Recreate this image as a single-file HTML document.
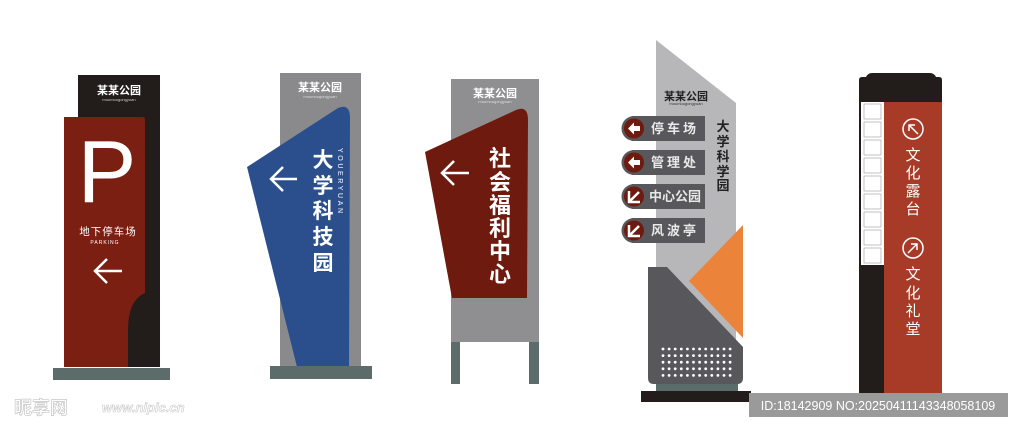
<!DOCTYPE html>
<html><head><meta charset="utf-8"><style>
html,body{margin:0;padding:0;background:#fff;}
svg{display:block;}
text{font-family:"Liberation Sans","Noto Sans CJK SC",sans-serif;}
</style></head><body>
<svg width="1024" height="433" viewBox="0 0 1024 433" xmlns="http://www.w3.org/2000/svg">
<!-- Sign 1 -->
<rect x="78" y="75" width="82" height="292" fill="#221d1a"/>
<text x="119" y="94" font-size="11" font-weight="bold" fill="#fff" text-anchor="middle">某某公园</text>
<text x="119" y="101" font-size="4" fill="#ccc" text-anchor="middle">moumougongyuan</text>
<path d="M64 117 L143 117 Q145 117 145 120 L145 293 Q128 300 128 330 L128 367 L64 367 Z" fill="#7a1f12"/>
<text x="107" y="202" font-size="88" fill="#fff" text-anchor="middle">P</text>
<text x="108" y="235" font-size="10.5" fill="#fff" text-anchor="middle" letter-spacing="1">地下停车场</text>
<text x="105" y="244" font-size="5" fill="#fff" text-anchor="middle" letter-spacing="1">PARKING</text>
<path d="M122 271 L96 271 M107 259 L95 271 L107 283" stroke="#fff" stroke-width="2.5" fill="none"/>
<rect x="53" y="368" width="117" height="12" fill="#5b6c6b"/>
<!-- Sign 2 -->
<rect x="280" y="73" width="81" height="294" fill="#8a8a8c"/>
<text x="320" y="91" font-size="11" font-weight="bold" fill="#fff" text-anchor="middle">某某公园</text>
<text x="320" y="98" font-size="4" fill="#ddd" text-anchor="middle">moumougongyuan</text>
<path d="M247 167 L338 108 Q350 103 350 118 L349 367 L297 367 Z" fill="#2b4f8c"/>
<path d="M297 179 L272 179 M283 167 L271 179 L283 191" stroke="#fff" stroke-width="2.5" fill="none"/>
<g font-size="21" font-weight="bold" fill="#fff" text-anchor="middle">
<text x="323" y="167">大</text><text x="323" y="193">学</text><text x="323" y="218">科</text><text x="323" y="244">技</text><text x="323" y="270">园</text></g>
<text transform="translate(338,148) rotate(90)" font-size="7" fill="#fff" letter-spacing="2.6">YOUERYUAN</text>
<rect x="270" y="366" width="102" height="13" fill="#5b6c6b"/>
<!-- Sign 3 -->
<rect x="451" y="79" width="88" height="263" fill="#8f8f91"/>
<rect x="451" y="342" width="9" height="42" fill="#5b6c6b"/>
<rect x="529" y="342" width="10" height="42" fill="#5b6c6b"/>
<text x="495" y="97" font-size="11" font-weight="bold" fill="#fff" text-anchor="middle">某某公园</text>
<text x="495" y="103" font-size="4" fill="#ddd" text-anchor="middle">moumougongyuan</text>
<path d="M425 152 L516 110 Q528 105 528 120 L527 298 L452 298 Z" fill="#6e1a0e"/>
<path d="M469 173 L443 173 M454 161 L442 173 L454 185" stroke="#fff" stroke-width="2.5" fill="none"/>
<g font-size="22" font-weight="bold" fill="#fff" text-anchor="middle">
<text x="500" y="166">社</text><text x="500" y="190">会</text><text x="500" y="213">福</text><text x="500" y="236">利</text><text x="500" y="259">中</text><text x="500" y="282">心</text></g>
<!-- Sign 4 -->
<path d="M656 40 L736 103 L736 347 L656 347 Z" fill="#b7b7b9"/>
<path d="M643 267 L667 267 L743 347 L743 378 Q743 384 737 384 L654 384 Q648 384 648 378 L648 267 Z" fill="#58575b"/>
<path d="M743 225 L689 281 L743 338 Z" fill="#ec833a"/>
<rect x="656" y="384" width="82" height="7" fill="#5b6c6b"/>
<rect x="641" y="391" width="110" height="11" fill="#221d1a"/>
<g fill="#fff">
<circle cx="663" cy="349" r="1.3"/>
</g>
<g id="dots" fill="#fff"></g>
<text x="686" y="100" font-size="11" font-weight="bold" fill="#222" text-anchor="middle">某某公园</text>
<text x="686" y="105" font-size="4" fill="#333" text-anchor="middle">moumougongyuan</text>
<g font-size="13" font-weight="bold" fill="#222" text-anchor="middle">
<text x="723" y="131">大</text><text x="723" y="146">学</text><text x="723" y="161">科</text><text x="723" y="176">学</text><text x="723" y="190">园</text></g>
<g>
<rect x="632" y="116" width="73" height="25" fill="#58575b"/><circle cx="634" cy="128.5" r="12.5" fill="#58575b"/><circle cx="634" cy="128.5" r="10" fill="#6e1a0e"/>
<rect x="632" y="150" width="73" height="25" fill="#58575b"/><circle cx="634" cy="162.5" r="12.5" fill="#58575b"/><circle cx="634" cy="162.5" r="10" fill="#6e1a0e"/>
<rect x="632" y="184" width="73" height="25" fill="#58575b"/><circle cx="634" cy="196.5" r="12.5" fill="#58575b"/><circle cx="634" cy="196.5" r="10" fill="#6e1a0e"/>
<rect x="632" y="218" width="73" height="25" fill="#58575b"/><circle cx="634" cy="230.5" r="12.5" fill="#58575b"/><circle cx="634" cy="230.5" r="10" fill="#6e1a0e"/>
<path d="M628 128.5 L634 122.5 L634 126 L640 126 L640 131 L634 131 L634 134.5 Z" fill="#fff"/>
<path d="M628 162.5 L634 156.5 L634 160 L640 160 L640 165 L634 165 L634 168.5 Z" fill="#fff"/>
<path d="M629 191 L629 202 L640 202 M629 202 L639 192" stroke="#fff" stroke-width="2.5" fill="none"/>
<path d="M629 225 L629 236 L640 236 M629 236 L639 226" stroke="#fff" stroke-width="2.5" fill="none"/>
<g font-size="13" font-weight="bold" fill="#e8e8e8">
<text x="651" y="133" letter-spacing="3">停车场</text>
<text x="651" y="167" letter-spacing="3">管理处</text>
<text x="649" y="201">中心公园</text>
<text x="651" y="235" letter-spacing="3">风波亭</text></g>
</g>
<!-- Sign 5 -->
<path d="M859 80 Q859 77 862 77 L866 77 Q868 73 872 73 L930 73 Q934 73 936 77 L939 77 Q942 77 942 80 L942 395 L859 395 Z" fill="#221d1a"/>
<rect x="861" y="102" width="23" height="163" fill="#fff"/>
<g stroke="#999" stroke-width="0.6" fill="none">
<rect x="864" y="104" width="17" height="15"/><rect x="864" y="122" width="17" height="15"/><rect x="864" y="140" width="17" height="15"/><rect x="864" y="158" width="17" height="15"/><rect x="864" y="176" width="17" height="15"/><rect x="864" y="194" width="17" height="15"/><rect x="864" y="212" width="17" height="15"/><rect x="864" y="230" width="17" height="15"/><rect x="864" y="248" width="17" height="15"/>
</g>
<rect x="884" y="102" width="58" height="293" fill="#a83a28"/>
<rect x="847" y="395" width="106" height="5" fill="#5b6c6b"/>
<circle cx="913" cy="129" r="10" stroke="#fff" stroke-width="1.5" fill="none"/>
<path d="M918 134 L909 125 M909 131 L909 125 L915 125" stroke="#fff" stroke-width="1.5" fill="none"/>
<circle cx="913" cy="248" r="10" stroke="#fff" stroke-width="1.5" fill="none"/>
<path d="M908 253 L917 244 M911 244 L917 244 L917 250" stroke="#fff" stroke-width="1.5" fill="none"/>
<g font-size="15" fill="#fff" text-anchor="middle">
<text x="913" y="160">文</text><text x="913" y="178">化</text><text x="913" y="196">露</text><text x="913" y="214">台</text>
<text x="913" y="279">文</text><text x="913" y="298">化</text><text x="913" y="316">礼</text><text x="913" y="334">堂</text></g>
<!-- watermark -->
<rect x="749" y="393" width="259" height="24" fill="#9a9a9a"/>
<text x="878" y="410" font-size="12.5" fill="#fff" text-anchor="middle">ID:18142909 NO:20250411143348058109</text>
<text x="14" y="414" font-size="18" fill="#fff" stroke="#c8c8c8" stroke-width="0.7" font-weight="bold">昵享网</text>
<text x="102" y="412" font-size="13" fill="#fff" stroke="#c8c8c8" stroke-width="0.6" font-weight="bold" font-style="italic">www.nipic.cn</text>
</svg>
<script>
var g=document.getElementById('dots'),s='';
for(var r=0;r<5;r++)for(var c=0;c<12;c++)s+='<circle cx="'+(663+c*6.1)+'" cy="'+(349+r*6.6)+'" r="1.4"/>';
g.innerHTML=s;
</script>
</body></html>
